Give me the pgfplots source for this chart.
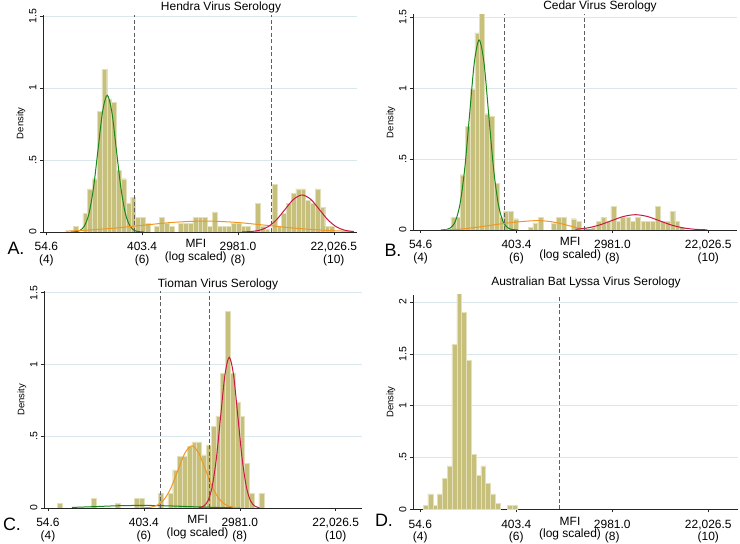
\documentclass[border=0pt]{standalone}
\usepackage{fontspec}
\setmainfont{Liberation Sans}
\usepackage{pgfplots}
\pgfplotsset{compat=1.18}

\definecolor{barfill}{RGB}{199,192,124}
\definecolor{baredge}{RGB}{228,224,186}
\definecolor{gridc}{RGB}{218,232,237}
\definecolor{cgreen}{RGB}{25,135,25}
\definecolor{corange}{RGB}{240,150,35}
\definecolor{cred}{RGB}{200,25,70}
\definecolor{dashc}{RGB}{95,95,95}

\pgfplotsset{
 panel/.style={
  scale only axis,
  anchor=south west,
  axis x line=bottom, axis y line=left,
  axis line style={black!85, line width=0.6bp, -},
  enlargelimits=false,
  ymin=0,
  xtick={4,6,8,10},
  xticklabels={54.6\\(4), 403.4\\(6), 2981.0\\(8), {22,026.5\\(10)}},
  xticklabel style={align=center, font=\fontsize{12}{12.5}\selectfont},
  xticklabel shift=4bp,
  extra x ticks={7.12},
  extra x tick labels={MFI\\(log scaled)},
  extra x tick style={major tick length=0pt, grid=none},
  yticklabel style={rotate=90, anchor=south, font=\fontsize{10.5}{10.5}\selectfont},
  ylabel={Density},
  ylabel style={font=\fontsize{9.5}{10}\selectfont, yshift=-3bp},
  ymajorgrids,
  grid style={gridc, line width=0.6bp},
  tick align=outside,
  major tick length=3bp,
  tick style={black!85, line width=0.5bp},
 },
 bars/.style={ybar, bar shift=0pt, bar width=0.1, fill=barfill, draw=baredge, line width=0.3bp},
 curve/.style={smooth, no marks, line width=1bp},
 cut/.style={dashc, dash pattern=on 4bp off 2.5bp, line width=0.6bp, no marks},
}

\begin{document}
\begin{tikzpicture}
\path[use as bounding box] (0,0) rectangle (740bp,544bp);

% ---------------- A ----------------
\begin{axis}[panel, at={(43bp,312bp)}, width=314bp, height=217.4bp,
  xmin=3.93, xmax=10.485, ymax=1.51,
  ytick={0,0.5,1,1.5}, yticklabels={0,.5,1,1.5}]
\addplot[bars] coordinates {
(4.61,0.04) (4.81,0.13) (4.91,0.30) (5.01,0.37) (5.11,0.84) (5.21,1.13)
(5.31,0.92) (5.41,0.90) (5.51,0.43) (5.61,0.37) (5.71,0.20) (5.81,0.24)
(5.91,0.10) (6.01,0.10) (6.11,0.06) (6.31,0.04) (6.41,0.10) (6.51,0.06)
(6.61,0.04) (6.81,0.06) (6.91,0.06) (7.01,0.06) (7.11,0.10) (7.21,0.10)
(7.31,0.10) (7.41,0.04) (7.51,0.14) (7.61,0.04) (7.71,0.04) (7.81,0.04)
(7.91,0.06) (8.01,0.06) (8.11,0.04) (8.21,0.04) (8.41,0.20) (8.51,0.04)
(8.61,0.02) (8.76,0.33) (8.86,0.04) (8.96,0.13) (9.06,0.20) (9.16,0.27)
(9.26,0.30) (9.36,0.30) (9.46,0.22) (9.56,0.20) (9.66,0.30) (9.76,0.17)
(9.86,0.04) (9.96,0.04)};
\addplot[curve, cgreen] coordinates {
(4.51,0.0003) (4.605,0.0021) (4.70,0.0105) (4.795,0.0417) (4.89,0.1285)
(4.985,0.3085) (5.08,0.5762) (5.175,0.8384) (5.27,0.95) (5.365,0.8384)
(5.46,0.5762) (5.555,0.3085) (5.65,0.1285) (5.745,0.0417) (5.84,0.0105)
(5.935,0.0021) (6.03,0.0003)};
\addplot[curve, corange] coordinates {
(4.40,0.006) (4.70,0.0103) (5.35,0.0247) (6.0,0.0461) (6.65,0.0671)
(7.3,0.076) (7.95,0.0671) (8.6,0.0461) (9.25,0.0247) (9.9,0.0103) (10.4,0.0045)};
\addplot[curve, cred] coordinates {
(8.08,0.0006) (8.26,0.0029) (8.44,0.0113) (8.62,0.0348) (8.80,0.0834)
(8.98,0.1559) (9.16,0.2268) (9.34,0.257) (9.52,0.2268) (9.70,0.1559)
(9.88,0.0834) (10.06,0.0348) (10.24,0.0113) (10.42,0.0029)};
\addplot[cut] coordinates {(5.83,0) (5.83,1.51)};
\addplot[cut] coordinates {(8.70,0) (8.70,1.51)};
\end{axis}

% ---------------- B ----------------
\begin{axis}[panel, at={(413bp,314bp)}, width=324bp, height=215.5bp,
  xmin=3.84, xmax=10.60, ymax=1.52,
  ytick={0,0.5,1,1.5}, yticklabels={0,.5,1,1.5}]
\addplot[bars] coordinates {
(4.68,0.09) (4.78,0.09) (4.88,0.39) (4.98,0.73) (5.08,0.99) (5.18,1.39)
(5.28,1.53) (5.38,0.82) (5.48,0.80) (5.58,0.33) (5.68,0.09) (5.78,0.13)
(5.88,0.13) (5.98,0.08) (6.29,0.02) (6.39,0.05) (6.50,0.09) (6.77,0.05)
(6.88,0.09) (6.98,0.09) (7.19,0.08) (7.29,0.06) (7.60,0.02) (7.71,0.06)
(7.81,0.09) (7.91,0.06) (8.02,0.165) (8.12,0.06) (8.22,0.09) (8.33,0.09)
(8.43,0.06) (8.53,0.09) (8.64,0.06) (8.74,0.06) (8.84,0.06) (8.95,0.165)
(9.05,0.06) (9.15,0.06) (9.25,0.13) (9.35,0.06) (9.45,0.02)};
\addplot[curve, cgreen] coordinates {
(4.42,0.0004) (4.52,0.0029) (4.62,0.0149) (4.72,0.0588) (4.82,0.1813)
(4.92,0.4351) (5.02,0.8127) (5.12,1.1826) (5.22,1.34) (5.32,1.1826)
(5.42,0.8127) (5.52,0.4351) (5.62,0.1813) (5.72,0.0588) (5.82,0.0149)
(5.92,0.0029) (6.02,0.0004)};
\addplot[curve, corange] coordinates {
(4.5,0.0) (4.8,0.005) (5.0,0.012) (5.3,0.025) (5.6,0.040) (5.9,0.053)
(6.2,0.062) (6.45,0.066) (6.7,0.060) (6.9,0.047) (7.1,0.030) (7.3,0.013)
(7.45,0.005) (7.6,0.001)};
\addplot[curve, cred] coordinates {
(7.23,0.0047) (7.48,0.0146) (7.73,0.0351) (7.98,0.0655) (8.23,0.0953)
(8.48,0.108) (8.73,0.0953) (8.98,0.0655) (9.23,0.0351) (9.48,0.0146)
(9.73,0.0047) (9.98,0.0012)};
\addplot[cut] coordinates {(5.74,0) (5.74,1.52)};
\addplot[cut] coordinates {(7.41,0) (7.41,1.52)};
\end{axis}

% ---------------- C ----------------
\begin{axis}[panel, at={(44bp,36bp)}, width=318.4bp, height=216.7bp,
  xmin=3.917, xmax=10.557, ymax=1.51,
  ytick={0,0.5,1,1.5}, yticklabels={0,.5,1,1.5}]
\addplot[bars] coordinates {
(4.25,0.033) (4.95,0.067) (5.45,0.033) (5.85,0.067) (5.95,0.067)
(6.35,0.10) (6.55,0.10) (6.65,0.265) (6.75,0.36) (6.85,0.36) (6.95,0.43)
(7.05,0.46) (7.15,0.46) (7.25,0.37) (7.35,0.44) (7.45,0.57) (7.55,0.64)
(7.65,0.94) (7.75,1.37) (7.85,0.94) (7.95,0.74) (8.05,0.64) (8.15,0.31)
(8.25,0.10) (8.45,0.10)};
\addplot[curve, cgreen] coordinates {
(4.5,0.004) (5.0,0.010) (5.5,0.016) (6.0,0.018) (6.5,0.015) (7.0,0.009)
(7.5,0.004) (8.0,0.001)};
\addplot[curve, corange] coordinates {
(5.985,0.001) (6.13,0.0048) (6.275,0.019) (6.42,0.0586) (6.565,0.1406)
(6.71,0.2626) (6.855,0.3821) (7.0,0.433) (7.145,0.3821) (7.29,0.2626)
(7.435,0.1406) (7.58,0.0586) (7.725,0.019) (7.87,0.0048) (8.015,0.001)};
\addplot[curve, cred] coordinates {
(7.15,0.0023) (7.24,0.0117) (7.33,0.0461) (7.42,0.1421) (7.51,0.3409)
(7.60,0.6368) (7.69,0.9266) (7.78,1.05) (7.87,0.9266) (7.96,0.6368)
(8.05,0.3409) (8.14,0.1421) (8.23,0.0461) (8.32,0.0117) (8.41,0.0023)};
\addplot[cut] coordinates {(6.35,0) (6.35,1.51)};
\addplot[cut] coordinates {(7.37,0) (7.37,1.51)};
\end{axis}

% ---------------- D ----------------
\begin{axis}[panel, at={(413bp,34.7bp)}, width=325bp, height=214.5bp,
  xmin=3.848, xmax=10.62, ymax=2.07,
  ytick={0,0.5,1,1.5,2}, yticklabels={0,.5,1,1.5,2}]
\addplot[bars] coordinates {
(4.11,0.04) (4.21,0.148) (4.31,0.04) (4.41,0.148) (4.51,0.30) (4.61,0.42)
(4.71,1.59) (4.81,2.09) (4.91,1.90) (5.01,1.44) (5.11,0.53) (5.21,0.33)
(5.31,0.42) (5.41,0.25) (5.51,0.148) (5.61,0.06) (5.86,0.04) (5.96,0.04)};
\addplot[cut] coordinates {(6.90,0) (6.90,2.07)};
\end{axis}

% titles and panel letters
\node[font=\fontsize{12}{14}\selectfont] at (221bp,537bp) {Hendra Virus Serology};
\node[font=\fontsize{12}{14}\selectfont] at (600bp,538bp) {Cedar Virus Serology};
\node[font=\fontsize{12}{14}\selectfont] at (218bp,260bp) {Tioman Virus Serology};
\node[font=\fontsize{12}{14}\selectfont] at (586bp,262bp) {Australian Bat Lyssa Virus Serology};
\node[font=\fontsize{18}{20}\selectfont] at (16bp,296bp) {A.};
\node[font=\fontsize{18}{20}\selectfont] at (393bp,294bp) {B.};
\node[font=\fontsize{18}{20}\selectfont] at (12bp,20bp) {C.};
\node[font=\fontsize{18}{20}\selectfont] at (384bp,24bp) {D.};
\end{tikzpicture}
\end{document}
